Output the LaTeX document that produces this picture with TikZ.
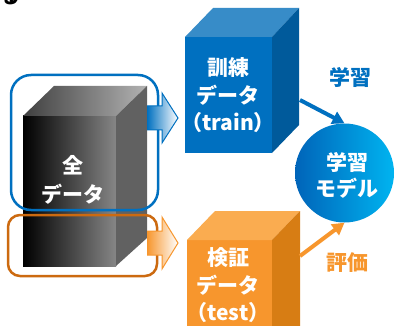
\documentclass[tikz,border=0pt]{standalone}
\usepackage{fontspec}
\newfontfamily\jp{Noto Sans CJK JP}
\usetikzlibrary{arrows.meta}
\definecolor{mblue}{RGB}{0,112,192}
\definecolor{mbluetop}{RGB}{55,140,200}
\definecolor{mblueside}{RGB}{0,90,155}
\definecolor{morange}{RGB}{247,150,45}
\definecolor{morangetop}{RGB}{250,172,80}
\definecolor{morangeside}{RGB}{215,125,20}
\definecolor{mbrown}{RGB}{204,106,16}
\definecolor{mcyan}{RGB}{0,180,240}
\definecolor{mdblue}{RGB}{0,100,185}
\tikzset{
  jptext/.style={font=\jp\bfseries\fontsize{21}{27.5}\selectfont, align=center, inner sep=0pt},
  wtext/.style={jptext, text=white},
  groupbox/.style={line width=2.5pt},
  linearrow/.style={line width=4pt, -{Triangle[length=12pt,width=13pt]}},
  blockarrow/.style={line width=1pt, line join=miter}
}
\begin{document}
\begin{tikzpicture}[x=1pt,y=-1pt]
\clip (0,0) rectangle (396,326);
\fill[white] (0,0) rectangle (396,326);
% cropped title
\node[jptext, anchor=base east, text=black] (title) at (21,3.5) {する};
% black cube
\shade[left color=black, right color=gray!95] (23,116) rectangle (116,266);
\shade[left color=black!75, right color=black!30] (23,116) -- (54,86) -- (147,86) -- (116,116) -- cycle;
\fill[black!62] (116,116) -- (147,86) -- (147,238) -- (116,266) -- cycle;
\node[wtext, text width=80pt, font=\jp\bfseries\fontsize{21}{29}\selectfont] (all) at (73,180) {全\\データ};
% group boxes
\draw[groupbox, mblue, rounded corners=20pt] (11,75) rectangle (158,210);
\draw[groupbox, mbrown, rounded corners=12pt] (8,215) rectangle (157,276);
% block arrows
\shade[left color=mblue, right color=white] (147,106) -- (162,106) -- (162,93) -- (178,118) -- (162,143) -- (162,130) -- (147,130) -- cycle;
\draw[blockarrow, mblue] (147,106) -- (162,106) -- (162,93) -- (178,118) -- (162,143) -- (162,130) -- (147,130);
\shade[left color=morange, right color=white] (147,231) -- (162,231) -- (162,217) -- (178,243) -- (162,269) -- (162,255) -- (147,255) -- cycle;
\draw[blockarrow, morange] (147,231) -- (162,231) -- (162,217) -- (178,243) -- (162,269) -- (162,255) -- (147,255);
% blue cube
\fill[mblue] (185,37) rectangle (272,153);
\fill[mbluetop] (185,37) -- (213,8) -- (299,8) -- (272,37) -- cycle;
\fill[mblueside] (272,37) -- (299,8) -- (299,125) -- (272,153) -- cycle;
\node[wtext] (train) at (228,95.5) {訓練\\データ\\（train）};
% orange cube
\fill[morange] (187,240) rectangle (272,330);
\fill[morangetop] (187,240) -- (215,211) -- (300,211) -- (272,240) -- cycle;
\fill[morangeside] (272,240) -- (300,211) -- (300,330) -- (272,330) -- cycle;
\node[wtext] (test) at (228,285.5) {検証\\データ\\（test）};
% model circle
\node[circle, minimum size=99pt, inner sep=0pt, left color=mdblue, right color=mcyan, draw=none] (model) at (344.5,173) {};
\node[wtext, font=\jp\bfseries\fontsize{21}{26}\selectfont] (modeltext) at (347,175) {学習\\モデル};
% line arrows
\coordinate (bstart) at (300,100);
\coordinate (ostart) at (300,256);
\draw[linearrow, mblue] (bstart) -- (model.north);
\draw[linearrow, morange] (ostart) -- (model.south);
\node[jptext, text=mblue] (learn) at (350,77) {学習};
\node[jptext, text=morange] (eval) at (347,263) {評価};
\end{tikzpicture}
\end{document}
